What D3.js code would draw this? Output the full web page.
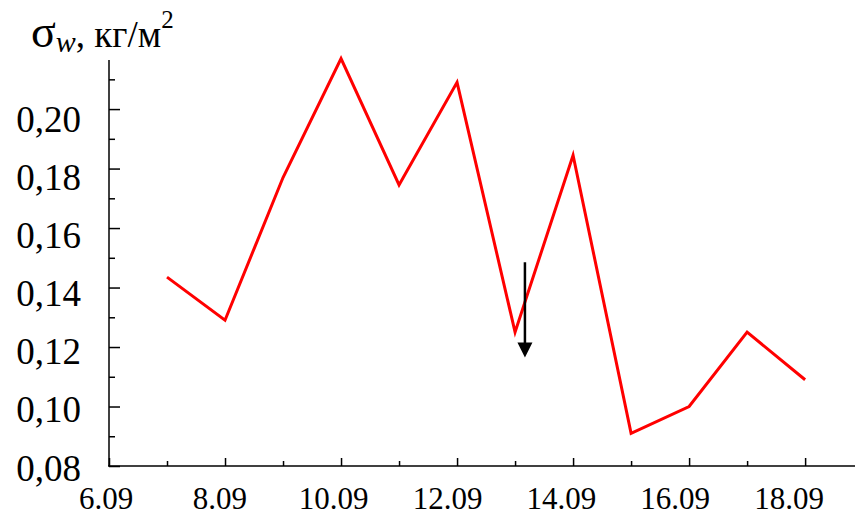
<!DOCTYPE html>
<html><head><meta charset="utf-8">
<script src="https://cdn.jsdelivr.net/npm/d3@7"></script>
<style>body{margin:0;background:#fff}</style>
</head><body>
<svg id="c" width="855" height="512"></svg>
<script>
const days = [7, 8, 9, 10, 11, 12, 13, 14, 15, 16, 17, 18];
const sigma = [0.1435, 0.129, 0.177, 0.217, 0.1745, 0.209, 0.125, 0.1845, 0.091, 0.100, 0.125, 0.109];
const xTickDays = [6, 8, 10, 12, 14, 16, 18];
const xTickLabels = ["6.09", "8.09", "10.09", "12.09", "14.09", "16.09", "18.09"];
const yTicks = [0.08, 0.10, 0.12, 0.14, 0.16, 0.18, 0.20];
const yTickLabels = ["0,08", "0,10", "0,12", "0,14", "0,16", "0,18", "0,20"];
const arrowDay = [13.17];
const arrowFromTo = [0.1485, 0.1165];

const svg = d3.select("#c");
const font = "'Liberation Serif', 'Times New Roman', serif";
const x = d3.scaleLinear().domain([6, 18.86]).range([109, 855]);
const y = d3.scaleLinear().domain([0.08, 0.2165]).range([466, 60]);
// label placement scales (labels are spaced slightly tighter than ticks in the source)
const xLab = d3.scaleLinear().domain([6, 18]).range([106, 789]);
const yLab = d3.scaleLinear().domain([0.08, 0.20]).range([468, 119.5]);

// y axis (ticks inward)
const ya = svg.append("g").attr("transform", "translate(109,0)")
  .call(d3.axisRight(y).tickValues(d3.range(0.08, 0.2165, 0.01)).tickSize(5).tickFormat(""));
ya.select(".domain").attr("d", `M0,${y.range()[1]}V${y.range()[0]}`).attr("stroke-width", 1.5);
ya.selectAll(".tick line").attr("x2", (d) => Math.round(d * 100) % 2 === 0 ? 11 : 6).attr("stroke-width", 1.5);
svg.append("g").selectAll("text").data(yTicks).join("text")
  .attr("x", 81).attr("y", d => yLab(d) + 12.5).attr("text-anchor", "end")
  .attr("font-family", font).attr("font-size", 37).text((d, i) => yTickLabels[i]);

// x axis (ticks inward / upward)
const xa = svg.append("g").attr("transform", "translate(0,466)")
  .call(d3.axisTop(x).tickValues(d3.range(6, 19, 1)).tickSize(5).tickFormat(""));
xa.select(".domain").attr("d", `M108,0H855`).attr("stroke-width", 1.5);
xa.selectAll(".tick line").attr("y2", d => d % 2 === 0 ? -8 : -5).attr("stroke-width", 1.5);
svg.append("g").selectAll("text").data(xTickDays).join("text")
  .attr("x", d => xLab(d)).attr("y", 509).attr("text-anchor", "middle")
  .attr("font-family", font).attr("font-size", 31).text((d, i) => xTickLabels[i]);

// data line
svg.append("path").datum(days.map((d, i) => [d, sigma[i]]))
  .attr("fill", "none").attr("stroke", "#ff0000").attr("stroke-width", 3)
  .attr("stroke-linejoin", "miter")
  .attr("d", d3.line().x(d => x(d[0])).y(d => y(d[1])));

// arrow
const ax = x(arrowDay[0]);
const y1 = y(arrowFromTo[0]), y2 = y(arrowFromTo[1]);
svg.append("line").attr("x1", ax).attr("x2", ax).attr("y1", y1).attr("y2", y2 - 12)
  .attr("stroke", "#000").attr("stroke-width", 2.5);
svg.append("path").attr("d", `M${ax - 7.5},${y2 - 15}L${ax + 7.5},${y2 - 15}L${ax},${y2}Z`).attr("fill", "#000");

// title
const t = svg.append("text").attr("x", 31).attr("y", 47).attr("font-family", font).attr("fill", "#000");
t.append("tspan").attr("font-size", 46).text("σ");
t.append("tspan").attr("font-size", 30).attr("font-style", "italic").attr("dy", 5).text("w");
t.append("tspan").attr("font-size", 37).attr("dy", -5).text(", кг/м");
t.append("tspan").attr("font-size", 25).attr("dy", -19).text("2");
</script>
</body></html>
